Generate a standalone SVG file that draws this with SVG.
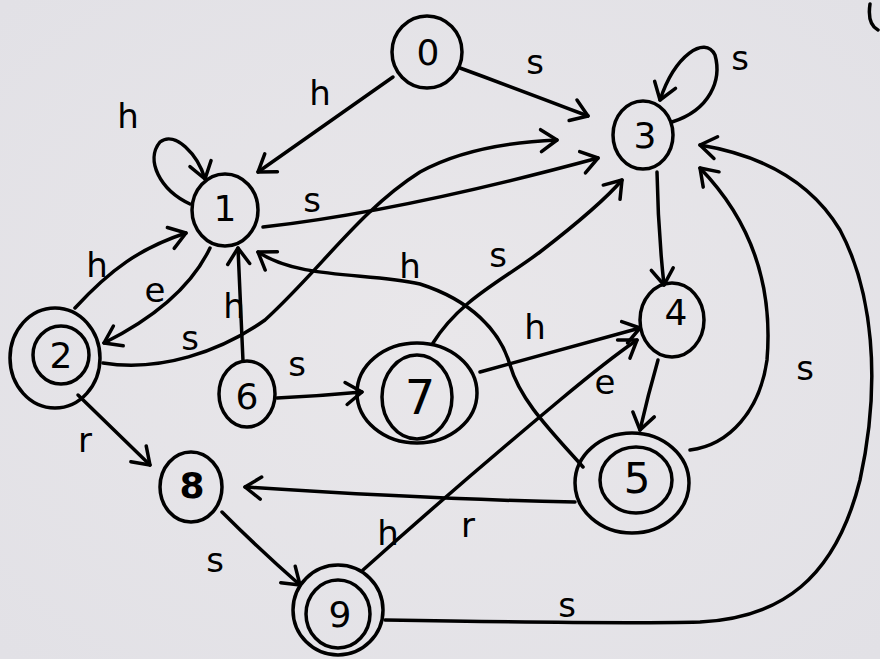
<svg xmlns="http://www.w3.org/2000/svg" width="880" height="659" viewBox="0 0 880 659">
<defs>
<marker id="arr" markerUnits="userSpaceOnUse" markerWidth="40" markerHeight="40" viewBox="-20 -20 40 40" refX="0" refY="0" orient="auto">
<path d="M-16,-11 L0,0 L-16,11" fill="none" stroke="#000" stroke-width="3.5" stroke-linecap="round" stroke-linejoin="round"/>
</marker>
<radialGradient id="bg" cx="0.5" cy="0.5" r="0.7">
<stop offset="0" stop-color="#e9e7ea"/>
<stop offset="1" stop-color="#e2e1e6"/>
</radialGradient>
</defs>
<style>
.n{fill:none;stroke:#000;stroke-width:3.5}
.e{fill:none;stroke:#000;stroke-width:3.5;stroke-linecap:round;stroke-linejoin:round;marker-end:url(#arr)}
.p{fill:none;stroke:#000;stroke-width:3.5;stroke-linecap:round}
.t{font-family:"DejaVu Sans","Liberation Sans",sans-serif;font-size:36px;fill:#000;text-anchor:middle;dominant-baseline:central}
.l{font-family:"DejaVu Sans","Liberation Sans",sans-serif;font-size:34px;fill:#000;text-anchor:middle;dominant-baseline:central}
</style>
<rect width="880" height="659" fill="url(#bg)"/>
<path class="p" d="M870,4 Q867,24 878,30"/>
<g id="connectors">
<path class="e" d="M393,77 L258,172"/>
<path class="e" d="M460,68 Q520,90 588,116"/>
<path class="e" d="M190,204 C160,190 145,160 160,142 C175,130 198,155 205,179"/>
<path class="e" d="M672,122 C710,110 722,80 715,55 C705,35 675,55 660,100"/>
<path class="e" d="M263,227 C370,215 480,190 598,158"/>
<path class="e" d="M75,308 C110,270 140,248 186,233"/>
<path class="e" d="M210,248 C190,290 150,320 104,343"/>
<path class="e" d="M103,363 C160,372 220,352 265,320 C320,270 360,210 420,172 C460,150 510,142 557,140"/>
<path class="e" d="M243,361 L238,248"/>
<path class="e" d="M583,467 C550,430 520,400 510,365 C500,330 470,300 420,284 C370,272 300,280 258,252"/>
<path class="e" d="M433,343 C460,300 500,282 540,252 C575,225 605,200 622,180"/>
<path class="e" d="M277,398 Q320,396 362,392"/>
<path class="e" d="M480,372 L640,328"/>
<path class="e" d="M363,570 C430,510 500,450 560,400 C590,375 615,355 637,340"/>
<path class="e" d="M657,172 Q658,230 664,285"/>
<path class="e" d="M658,360 Q648,395 640,430"/>
<path class="e" d="M690,450 C730,445 760,410 767,360 C772,300 760,230 700,168"/>
<path class="e" d="M385,620 C500,622 620,624 700,622 C780,618 835,580 860,480 C882,380 872,290 840,230 C810,180 760,155 700,145"/>
<path class="e" d="M78,395 L150,465"/>
<path class="e" d="M575,502 C460,500 350,494 245,487"/>
<path class="e" d="M222,512 Q260,550 300,585"/>
</g>
<g id="n0"><ellipse class="n" cx="427" cy="52" rx="35" ry="36"/><text class="t" x="428" y="52">0</text></g>
<g id="n1"><ellipse class="n" cx="225" cy="210" rx="33" ry="36"/><text class="t" x="225" y="208">1</text></g>
<g id="n2"><ellipse class="n" cx="55" cy="358" rx="45" ry="50"/><ellipse class="n" cx="61" cy="355" rx="28" ry="29"/><text class="t" x="61" y="355">2</text></g>
<g id="n3"><ellipse class="n" cx="643" cy="135" rx="30" ry="34"/><text class="t" x="645" y="135">3</text></g>
<g id="n4"><ellipse class="n" cx="672" cy="320" rx="32" ry="37"/><text class="t" x="676" y="312">4</text></g>
<g id="n5"><ellipse class="n" cx="632" cy="483" rx="57" ry="50"/><ellipse class="n" cx="636" cy="480" rx="36" ry="33"/><text class="t" x="637" y="478" style="font-size:42px">5</text></g>
<g id="n6"><ellipse class="n" cx="247" cy="394" rx="28" ry="33"/><text class="t" x="247" y="396">6</text></g>
<g id="n7"><ellipse class="n" cx="417" cy="393" rx="60" ry="50"/><ellipse class="n" cx="417" cy="397" rx="35" ry="42"/><text class="t" x="420" y="397" style="font-size:48px">7</text></g>
<g id="n8"><ellipse class="n" cx="191" cy="487" rx="31" ry="35"/><text class="t" x="192" y="485" style="font-weight:bold">8</text></g>
<g id="n9"><ellipse class="n" cx="338" cy="610" rx="45" ry="45"/><ellipse class="n" cx="338" cy="614" rx="32" ry="34"/><text class="t" x="340" y="614">9</text></g>
<g id="labels">
<text class="l" x="320" y="93">h</text>
<text class="l" x="535" y="62">s</text>
<text class="l" x="128" y="116">h</text>
<text class="l" x="740" y="58">s</text>
<text class="l" x="312" y="200">s</text>
<text class="l" x="97" y="265">h</text>
<text class="l" x="155" y="290">e</text>
<text class="l" x="190" y="338">s</text>
<text class="l" x="234" y="306">h</text>
<text class="l" x="410" y="266">h</text>
<text class="l" x="498" y="255">s</text>
<text class="l" x="535" y="327">h</text>
<text class="l" x="297" y="364">s</text>
<text class="l" x="605" y="382">e</text>
<text class="l" x="805" y="368">s</text>
<text class="l" x="85" y="440">r</text>
<text class="l" x="468" y="525">r</text>
<text class="l" x="388" y="533">h</text>
<text class="l" x="215" y="560">s</text>
<text class="l" x="567" y="605">s</text>
</g>
</svg>
